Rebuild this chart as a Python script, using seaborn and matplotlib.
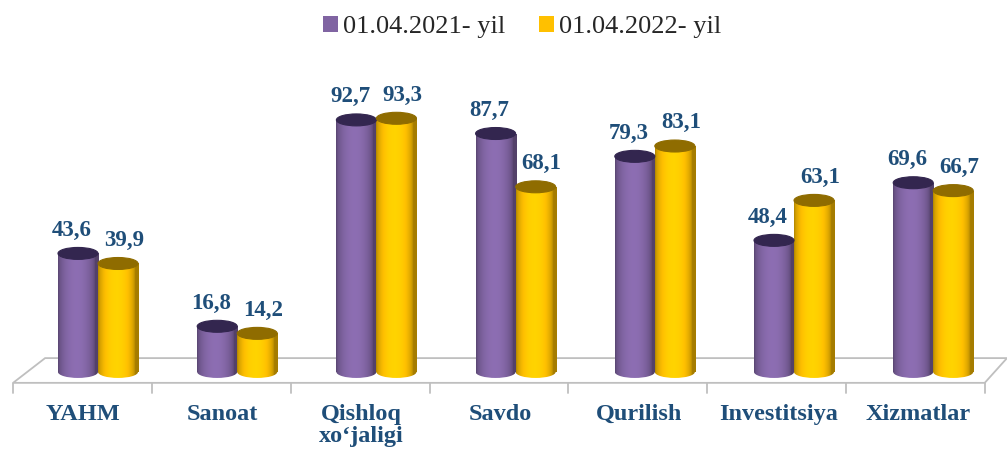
import numpy as np
import pandas as pd
import matplotlib.pyplot as plt
import seaborn as sns
from matplotlib.patches import Ellipse, Polygon, Patch
from matplotlib.colors import to_rgb
from matplotlib.transforms import offset_copy

categories = ['YAHM', 'Sanoat', 'Qishloq\nxo‘jaligi', 'Savdo', 'Qurilish', 'Investitsiya', 'Xizmatlar']
y2021 = [43.6, 16.8, 92.7, 87.7, 79.3, 48.4, 69.6]
y2022 = [39.9, 14.2, 93.3, 68.1, 83.1, 63.1, 66.7]
series = ['01.04.2021- yil', '01.04.2022- yil']
colors = ['#8064A2', '#FFC000']
top_colors = ['#33264F', '#8F6C00']
label_color = '#1F4E79'
serif = ['Liberation Serif', 'DejaVu Serif']

df = pd.DataFrame({
    'cat': categories * 2,
    'val': y2021 + y2022,
    'year': [series[0]] * len(categories) + [series[1]] * len(categories),
})

sns.set_style('white')
fig = plt.figure(figsize=(10.07, 4.53), dpi=100)
ax = fig.add_axes([0, 0, 1, 1])
sns.barplot(data=df, x='cat', y='val', hue='year', palette=colors, width=0.575,
            saturation=1, ax=ax, legend=False)

xlim = (-0.704, 6.530)
ylim = (-29.8, 136.8)
ell_h = 4.4

# floor of the 3d plot
n = len(categories)
floor = Polygon([(-0.61, -4.0), (6.37, -4.0), (6.53, 5.1), (-0.38, 5.1)], closed=True,
                facecolor='white', edgecolor='#BFBFBF', lw=1.3, zorder=0)
ax.add_patch(floor)
for k in range(n + 1):
    xt = -0.61 + k * (6.98 / n)
    ax.plot([xt, xt], [-4.0, -7.7], color='#BFBFBF', lw=1.3, zorder=0)

# cylinder shading
t = np.linspace(0, 1, 200)
shade = 0.65 + 0.45 * np.sin(np.pi * np.clip(t * 1.1, 0, 1)) ** 0.5


def grad_img(color):
    c = np.array(to_rgb(color))
    img = np.clip(c[None, :] * shade[:, None], 0, 1)
    return img[None, :, :]


labels = []
for container, col, tcol in zip(ax.containers, colors, top_colors):
    img = grad_img(col)
    row = []
    for bar in container:
        x0 = bar.get_x()
        w = bar.get_width()
        h = bar.get_height()
        bar.set_zorder(2)
        bar.set_edgecolor('none')
        im = ax.imshow(img, extent=(x0, x0 + w, 0, h), aspect='auto', zorder=2.1)
        im.set_clip_path(bar)
        bottom = Ellipse((x0 + w / 2, 0), w, ell_h, facecolor='none', edgecolor='none', zorder=2)
        ax.add_patch(bottom)
        im2 = ax.imshow(img, extent=(x0, x0 + w, -ell_h, 0), aspect='auto', zorder=2.1)
        im2.set_clip_path(bottom)
        ax.add_patch(Ellipse((x0 + w / 2, h), w, ell_h, facecolor=tcol,
                             edgecolor=tcol, lw=0.8, zorder=2.2))
        txt = ax.text(x0 + w / 2, h + 6.5, f'{h:.1f}'.replace('.', ','), ha='center', va='baseline',
                      fontsize=16.5, fontweight='bold', color=label_color, family=serif, zorder=3)
        row.append(txt)
    labels.append(row)

for i, cat in enumerate(categories):
    ax.text(i - 0.11, -11.8, cat, ha='center', va='top', fontsize=17.5, fontweight='bold',
            color=label_color, family=serif, linespacing=1.05)

ax.set_xlim(*xlim)
ax.set_ylim(*ylim)
ax.axis('off')

# push apart value labels that would touch
renderer = fig.canvas.get_renderer()
min_gap = 12
for tp, tg in zip(labels[0], labels[1]):
    bp = tp.get_window_extent(renderer)
    bg = tg.get_window_extent(renderer)
    gap = bg.x0 - bp.x1
    if gap < min_gap:
        d = (min_gap - gap) / 2
        tp.set_transform(offset_copy(ax.transData, fig=fig, x=-d, y=0, units='dots'))
        tg.set_transform(offset_copy(ax.transData, fig=fig, x=d, y=0, units='dots'))

handles = [Patch(facecolor=c, edgecolor='none') for c in colors]
fig.legend(handles, series, loc='center', bbox_to_anchor=(522 / 1007, 1 - 27 / 453), ncol=2,
           frameon=False, prop={'family': serif, 'size': 19}, handlelength=0.57,
           handleheight=0.57, handletextpad=0.19, columnspacing=1.3)

fig.savefig('out.png', dpi=100)
